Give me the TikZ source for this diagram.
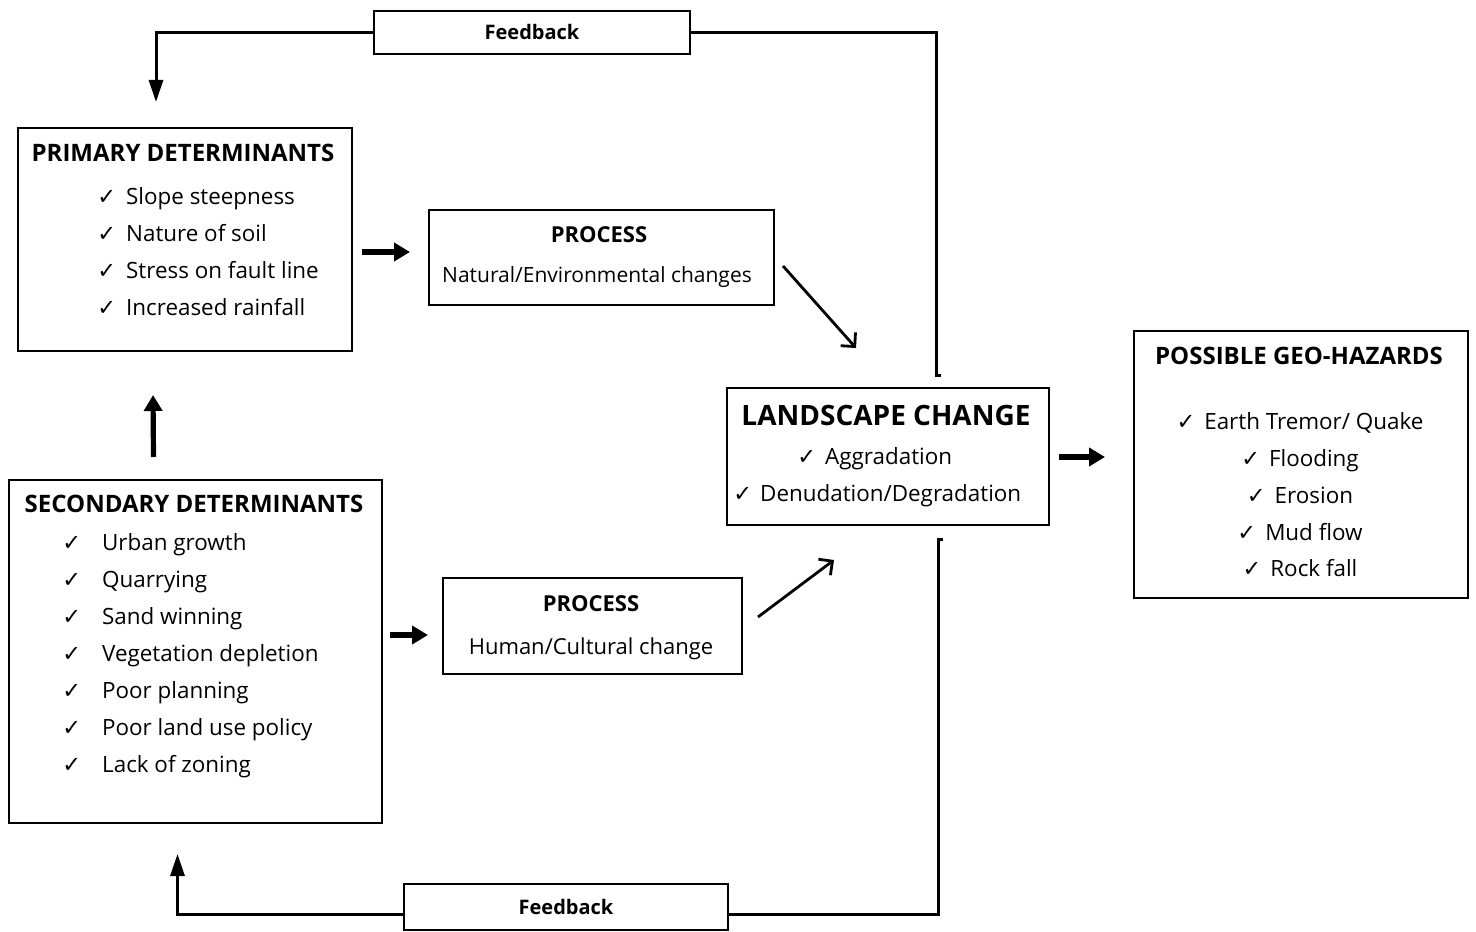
\documentclass[tikz,border=0pt]{standalone}
\usepackage{fontspec}
\setmainfont{Open Sans}
\newfontfamily\symfont{DejaVu Sans}
\usetikzlibrary{arrows.meta,calc}
\newcommand\ck{{\symfont ✓}}
\begin{document}
\begin{tikzpicture}[x=0.5pt,y=-0.5pt,
  box/.style={draw, line width=1pt, inner sep=0pt, anchor=north west},
  fbox/.style={draw, line width=1pt, inner sep=0pt, anchor=north west, font=\bfseries\fontsize{10}{12}\selectfont},
  head/.style={inner sep=0pt, anchor=mid, font=\bfseries\fontsize{12}{14}\selectfont},
  phead/.style={inner sep=0pt, anchor=mid, font=\bfseries\fontsize{11}{13}\selectfont},
  bighead/.style={inner sep=0pt, anchor=mid, font=\bfseries\fontsize{14}{16}\selectfont},
  item/.style={inner sep=0pt, anchor=mid west, font=\fontsize{11.2}{13}\selectfont},
  citem/.style={inner sep=0pt, anchor=mid, font=\fontsize{11.2}{13}\selectfont},
  fat/.style={line width=2.6pt, -{Triangle[length=8pt,width=9pt]}},
  fb/.style={line width=1.5pt},
  fbarrow/.style={line width=1.5pt, -{Triangle[length=11pt,width=7pt]}},
  diag/.style={line width=1.4pt, -{Straight Barb[length=5pt,width=10pt]}}
]
\useasboundingbox (0,0) rectangle (1476,931);

% boxes
\node[fbox, minimum width=158pt, minimum height=21.5pt] (fbt) at (373,10) {Feedback};
\node[box, minimum width=167pt, minimum height=111.5pt] (prim) at (17,127) {};
\node[box, minimum width=172.5pt, minimum height=47.5pt] (proc1) at (428,209) {};
\node[box, minimum width=161pt, minimum height=68.5pt] (land) at (726,387) {};
\node[box, minimum width=167pt, minimum height=133.5pt] (haz) at (1133,330) {};
\node[box, minimum width=186.5pt, minimum height=171.5pt] (sec) at (8,479) {};
\node[box, minimum width=149.5pt, minimum height=48pt] (proc2) at (442,577) {};
\node[fbox, minimum width=162pt, minimum height=23pt] (fbb) at (403,883) {Feedback};

% primary
\node[head] (primh) at (183,156) {PRIMARY DETERMINANTS};
\node[item] (p1) at (97,199) {\ck\hspace{5pt}Slope steepness};
\node[item] (p2) at (97,236) {\ck\hspace{5pt}Nature of soil};
\node[item] (p3) at (97,273) {\ck\hspace{5pt}Stress on fault line};
\node[item] (p4) at (97,310) {\ck\hspace{5pt}Increased rainfall};

% process 1
\node[phead] (pr1h) at (599,237) {PROCESS};
\node[citem, font=\fontsize{10.5}{12}\selectfont] (pr1t) at (597,277) {Natural/Environmental changes};

% landscape
\node[bighead] (landh) at (886,420) {LANDSCAPE CHANGE};
\node[item] (l1) at (797,459) {\ck\hspace{4.5pt}Aggradation};
\node[item] (l2) at (733,496) {\ck\hspace{4pt}Denudation/Degradation};

% hazards
\node[head] (hazh) at (1299,359) {POSSIBLE GEO-HAZARDS};
\node[citem] (h1) at (1300,424) {\ck\hspace{4.5pt}Earth Tremor/ Quake};
\node[citem] (h2) at (1300,461) {\ck\hspace{4.5pt}Flooding};
\node[citem] (h3) at (1300,498) {\ck\hspace{4.5pt}Erosion};
\node[citem] (h4) at (1300,535) {\ck\hspace{4.5pt}Mud flow};
\node[citem] (h5) at (1300,571) {\ck\hspace{4.5pt}Rock fall};

% secondary
\node[head] (sech) at (194,507) {SECONDARY DETERMINANTS};
\node[item] (s1) at (62,545) {\ck\hspace{10.5pt}Urban growth};
\node[item] (s2) at (62,582) {\ck\hspace{10.5pt}Quarrying};
\node[item] (s3) at (62,619) {\ck\hspace{10.5pt}Sand winning};
\node[item] (s4) at (62,656) {\ck\hspace{10.5pt}Vegetation depletion};
\node[item] (s5) at (62,693) {\ck\hspace{10.5pt}Poor planning};
\node[item] (s6) at (62,730) {\ck\hspace{10.5pt}Poor land use policy};
\node[item] (s7) at (62,767) {\ck\hspace{10.5pt}Lack of zoning};

% process 2
\node[phead] (pr2h) at (591,606) {PROCESS};
\node[citem, font=\fontsize{11}{13}\selectfont] (pr2t) at (591,649) {Human/Cultural change};

% arrows
\draw[fat] ($(prim.east)+(9,12.5)$) -- ($(proc1.west)+(-18,-5.5)$);
\draw[fat] ($(sec.east)+(7,-16.5)$) -- ($(proc2.west)+(-14,9)$);
\draw[fat] ($(sec.north)+(-42,-22)$) -- ($(prim.south)+(-32,43)$);
\draw[fat] ($(land.east)+(9,0.5)$) -- ($(haz.west)+(-28,-7.5)$);
\draw[diag] ($(proc1.east)+(8,8.5)$) -- ($(land.north)+(-32,-39)$);
\draw[diag] ($(proc2.east)+(15,-9)$) -- ($(land.south)+(-54,34)$);

% feedback loops
\coordinate (ttop) at ($(land.north)+(48,-12)$);
\coordinate (btop) at ($(land.south)+(50,13)$);
\draw[fb] ($(ttop)+(5,0)$) -- (ttop) |- (fbt.east);
\draw[fbarrow] (fbt.west) -| ($(prim.north)+(-29,-25)$);
\draw[fb] ($(btop)+(5,0)$) -- (btop) |- ($(fbb.east)+(0,7)$);
\draw[fbarrow] ($(fbb.west)+(0,7)$) -| ($(sec.south)+(-18,30)$);
\end{tikzpicture}
\end{document}
